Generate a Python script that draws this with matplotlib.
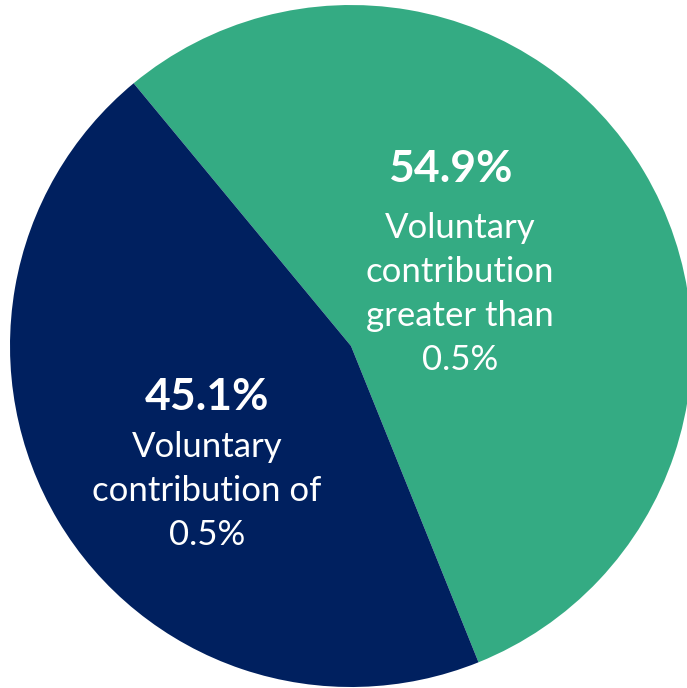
import matplotlib
matplotlib.use('Agg')
import matplotlib.pyplot as plt

shares = [54.9, 45.1]
share_labels = ['54.9%', '45.1%']
descriptions = ['Voluntary\ncontribution\ngreater than\n0.5%',
                'Voluntary\ncontribution of\n0.5%']
colors = ['#34AB83', '#00205F']

plt.rcParams['font.family'] = ['Lato', 'DejaVu Sans']

fig = plt.figure(figsize=(6.87, 6.88), dpi=100)
ax = fig.add_axes([0, 0, 1, 1])
ax.pie(shares, colors=colors, startangle=129.6, counterclock=False,
       radius=1, wedgeprops=dict(linewidth=0))
ax.set_xlim(-1.0293, 0.9853)
ax.set_ylim(-1.0029, 1.0147)
ax.set_aspect('equal')
ax.axis('off')

# label positions (data units, pie radius = 1)
ax.text(0.290, 0.519, share_labels[0], color='white', fontsize=32,
        fontweight='bold', ha='center', va='center')
ax.text(0.320, 0.152, descriptions[0], color='white', fontsize=25,
        ha='center', va='center', linespacing=1.46)
ax.text(-0.422, -0.150, share_labels[1], color='white', fontsize=32,
        fontweight='bold', ha='center', va='center')
ax.text(-0.422, -0.424, descriptions[1], color='white', fontsize=25,
        ha='center', va='center', linespacing=1.46)

fig.savefig('out.png', dpi=100, facecolor='white')
